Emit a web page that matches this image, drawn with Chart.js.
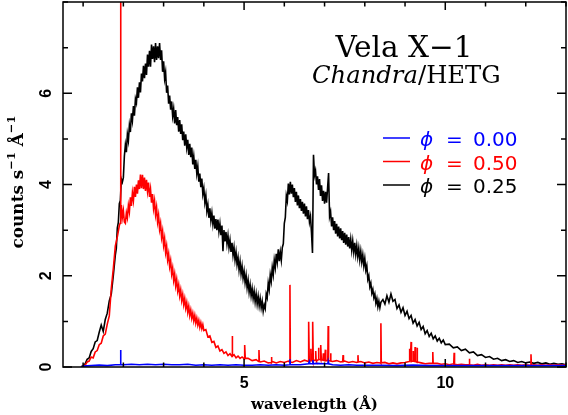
<!DOCTYPE html>
<html>
<head>
<meta charset="utf-8">
<title>Vela X-1 Chandra/HETG</title>
<script src="https://cdn.jsdelivr.net/npm/chart.js@4/dist/chart.umd.min.js"></script>
<style>
  html, body { margin: 0; padding: 0; background: #fff; }
  canvas { display: block; }
</style>
</head>
<body>
<canvas id="velaChart" width="568" height="415"></canvas>
<script>
// orbital phases, in the order of the legend
const phaseLabels = ["0.00", "0.50", "0.25"];

// axis ticks (wavelength in Angstrom, counts s^-1 A^-1)
const xTickValues = [1, 2, 3, 4, 5, 6, 7, 8, 9, 10, 11, 12, 13];
const xLabelValues = [5, 10];
const yTickValues = [0, 1, 2, 3, 4, 5, 6, 7, 8];
const yLabelValues = [0, 2, 4, 6];

// phase 0.25 spectrum (black)
const wlPhase025 = [
  0.95, 1.00, 1.05, 1.10, 1.15, 1.20, 1.25, 1.30, 1.35, 1.40,
  1.45, 1.50, 1.55, 1.60, 1.65, 1.70, 1.75,
  1.800, 1.825, 1.850, 1.875, 1.900, 1.925, 1.950, 1.975,
  2.000, 2.025, 2.050, 2.075, 2.100, 2.125, 2.150, 2.175,
  2.200, 2.225, 2.250, 2.275, 2.300, 2.325, 2.350, 2.375,
  2.400, 2.425, 2.450, 2.475, 2.500, 2.525, 2.550, 2.575,
  2.600, 2.625, 2.650, 2.675, 2.700, 2.725, 2.750, 2.775,
  2.800, 2.825, 2.850, 2.875, 2.900, 2.925, 2.950, 2.975,
  3.000, 3.025, 3.050, 3.075, 3.100, 3.125, 3.150, 3.175,
  3.200, 3.225, 3.250, 3.275, 3.300, 3.325, 3.350, 3.375,
  3.400, 3.425, 3.450, 3.475, 3.500, 3.525, 3.550, 3.575,
  3.600, 3.625, 3.650, 3.675, 3.700, 3.725, 3.750, 3.775,
  3.800, 3.825, 3.850, 3.875, 3.900, 3.925, 3.950, 3.975,
  4.000, 4.025, 4.050, 4.075, 4.100, 4.125, 4.150, 4.175,
  4.200, 4.225, 4.250, 4.275, 4.300, 4.325, 4.350, 4.375,
  4.400, 4.425, 4.450, 4.475, 4.500, 4.525, 4.550, 4.575,
  4.600, 4.625, 4.650, 4.675, 4.700, 4.725, 4.750, 4.775,
  4.800, 4.825, 4.850, 4.875, 4.900, 4.925, 4.950, 4.975,
  5.000, 5.025, 5.050, 5.075, 5.100, 5.125, 5.150, 5.175,
  5.200, 5.225, 5.250, 5.275, 5.300, 5.325, 5.350, 5.375,
  5.400, 5.425, 5.450, 5.475, 5.500, 5.525, 5.550, 5.575,
  5.600, 5.625, 5.650, 5.675, 5.700, 5.725, 5.750, 5.775,
  5.800, 5.825, 5.850, 5.875, 5.900, 5.925, 5.950, 5.975,
  6.000, 6.025, 6.050, 6.075, 6.100, 6.125, 6.150, 6.175,
  6.200, 6.225, 6.250, 6.275, 6.300, 6.325, 6.350, 6.375,
  6.400, 6.425, 6.450, 6.475, 6.500, 6.525, 6.550, 6.575,
  6.600, 6.625, 6.650, 6.675, 6.700, 6.725, 6.750, 6.775,
  6.800, 6.825, 6.850, 6.875, 6.900, 6.925, 6.950, 6.975,
  7.000, 7.025, 7.050, 7.075, 7.100, 7.125, 7.150, 7.175,
  7.200, 7.225, 7.250, 7.275, 7.300, 7.325, 7.350, 7.375,
  7.400, 7.425, 7.450, 7.475, 7.500, 7.525, 7.550, 7.575,
  7.600, 7.625, 7.650, 7.675, 7.700, 7.725, 7.750, 7.775,
  7.800, 7.825, 7.850, 7.875, 7.900, 7.925, 7.950, 7.975,
  8.000, 8.025, 8.050, 8.075, 8.100, 8.125, 8.150, 8.175,
  8.200, 8.225, 8.250, 8.275, 8.300, 8.325, 8.350, 8.375,
  8.400,
  8.45, 8.50, 8.55, 8.60, 8.65, 8.70, 8.75, 8.80,
  8.85, 8.90, 8.95, 9.00, 9.05, 9.10, 9.15, 9.20,
  9.25, 9.30, 9.35, 9.40, 9.45, 9.50, 9.55, 9.60,
  9.65, 9.70, 9.75, 9.80, 9.85, 9.90, 9.95, 10.0,
  10.1, 10.2, 10.3, 10.4, 10.5, 10.6, 10.7, 10.8, 10.9, 11.0,
  11.1, 11.2, 11.3, 11.4, 11.5, 11.6, 11.7, 11.8, 11.9, 12.0,
  12.1, 12.2, 12.3, 12.4, 12.5, 12.6, 12.7, 12.8, 12.9, 13.0
];
const fluxPhase025 = [
  0.00, 0.03, 0.07, 0.17, 0.20, 0.34, 0.40, 0.55, 0.58, 0.76,
  0.92, 0.78, 1.04, 1.18, 1.45, 1.60, 2.00,
  2.45, 2.60, 3.05, 3.17, 3.58, 3.65, 4.12, 4.05,
  4.15, 4.62, 4.87, 4.71, 5.10, 4.96, 5.30, 5.15,
  5.56, 5.40, 5.72, 5.51, 5.88, 5.79, 6.13, 5.90,
  6.24, 6.02, 6.43, 6.26, 6.60, 6.33, 6.65, 6.40,
  6.85, 6.58, 6.93, 6.58, 7.07, 6.75, 7.03, 6.68,
  7.10, 6.73, 7.03, 6.77, 7.10, 6.73, 6.94, 6.47,
  6.70, 6.32, 6.46, 6.01, 6.17, 5.77, 5.95, 5.64,
  5.82, 5.50, 5.66, 5.34, 5.63, 5.30, 5.48, 5.16,
  5.41, 5.11, 5.32, 4.97, 5.16, 4.85, 5.10, 4.81,
  4.98, 4.65, 4.89, 4.60, 4.81, 4.44, 4.62, 4.34,
  4.54, 4.24, 4.40, 4.06, 4.24, 3.94, 4.13, 3.79,
  3.92, 3.61, 3.76, 3.42, 3.56, 3.27, 3.48, 3.21,
  3.38, 3.13, 3.32, 3.03, 3.24, 3.00, 3.23, 2.97,
  3.14, 2.89, 3.10, 2.54, 3.00, 2.75, 2.96, 2.70,
  2.88, 2.62, 2.78, 2.52, 2.72, 2.45, 2.62, 2.35,
  2.52, 2.25, 2.40, 2.13, 2.31, 2.04, 2.21, 1.95,
  2.10, 1.85, 2.01, 1.74, 1.90, 1.64, 1.80, 1.56,
  1.72, 1.50, 1.66, 1.43, 1.60, 1.38, 1.55, 1.34,
  1.50, 1.30, 1.44, 1.22, 1.36, 1.28, 1.60, 1.52,
  1.84, 1.70, 2.02, 1.88, 2.18, 2.02, 2.34, 2.18,
  2.48, 2.30, 2.58, 2.32, 2.52, 2.34, 2.62, 2.70,
  3.15, 3.28, 3.75, 3.64, 4.02, 3.78, 4.06, 3.80,
  4.00, 3.72, 3.92, 3.62, 3.84, 3.54, 3.76, 3.48,
  3.68, 3.42, 3.62, 3.36, 3.58, 3.30, 3.52, 3.24,
  3.44, 3.18, 3.30, 2.95, 2.50, 4.65, 4.20, 4.30,
  4.00, 4.18, 3.88, 4.12, 3.75, 3.98, 3.64, 3.86,
  3.58, 3.84, 3.60, 3.92, 4.25, 3.30, 3.40, 3.08,
  3.28, 3.00, 3.20, 2.92, 3.14, 2.86, 3.08, 2.82,
  3.04, 2.78, 2.98, 2.72, 2.94, 2.68, 2.90, 2.64,
  2.85, 2.60, 2.80, 2.56, 2.76, 2.52, 2.72, 2.47,
  2.66, 2.42, 2.60, 2.35, 2.54, 2.30, 2.46, 2.22,
  2.38, 2.12, 2.22, 1.92, 2.00, 1.76, 1.84, 1.62,
  1.70, 1.52, 1.60, 1.40, 1.50, 1.32, 1.44, 1.30,
  1.42,
  1.48, 1.38, 1.56, 1.42, 1.60, 1.44, 1.48, 1.28,
  1.36, 1.20, 1.30, 1.13, 1.22, 1.06, 1.13, 0.96,
  1.04, 0.90, 0.98, 0.82, 0.89, 0.73, 0.80, 0.67,
  0.74, 0.62, 0.68, 0.57, 0.63, 0.53, 0.59, 0.49,
  0.50, 0.42, 0.44, 0.36, 0.39, 0.31, 0.33, 0.25, 0.27, 0.21,
  0.23, 0.17, 0.19, 0.14, 0.16, 0.12, 0.14, 0.10, 0.12, 0.09,
  0.11, 0.08, 0.10, 0.07, 0.09, 0.06, 0.08, 0.06, 0.07, 0.05
];

// phase 0.50 spectrum (red): continuum
const wlPhase050 = [
  0.95, 1.00, 1.05, 1.10, 1.15, 1.20, 1.25, 1.30, 1.35, 1.40,
  1.45, 1.50, 1.55, 1.60, 1.65, 1.70, 1.75, 1.80, 1.85, 1.90,
  1.92, 1.93, 1.94,
  1.950, 1.975, 2.000, 2.025, 2.050, 2.075, 2.100, 2.125,
  2.150, 2.175, 2.200, 2.225, 2.250, 2.275, 2.300, 2.325,
  2.350, 2.375, 2.400, 2.425, 2.450, 2.475, 2.500, 2.525,
  2.550, 2.575, 2.600, 2.625, 2.650, 2.675, 2.700, 2.725,
  2.750, 2.775, 2.800, 2.825, 2.850, 2.875, 2.900, 2.925,
  2.950, 2.975, 3.000, 3.025, 3.050, 3.075, 3.100, 3.125,
  3.150, 3.175, 3.200, 3.225, 3.250, 3.275, 3.300, 3.325,
  3.350, 3.375, 3.400, 3.425, 3.450, 3.475, 3.500, 3.525,
  3.550, 3.575, 3.600, 3.625, 3.650, 3.675, 3.700, 3.725,
  3.750, 3.775, 3.800, 3.825, 3.850, 3.875, 3.900, 3.925,
  3.950, 3.975,
  4.00, 4.05, 4.10, 4.15, 4.20, 4.25, 4.30, 4.35, 4.40, 4.45,
  4.50, 4.55, 4.60, 4.65, 4.70, 4.75, 4.80, 4.85, 4.90, 4.95,
  5.00,
  5.1, 5.2, 5.3, 5.4, 5.5, 5.6, 5.7, 5.8, 5.9, 6.0,
  6.1, 6.2, 6.3, 6.4, 6.5, 6.6, 6.7, 6.8, 6.9, 7.0,
  7.1, 7.2, 7.3, 7.4, 7.5, 7.6, 7.7, 7.8, 7.9, 8.0,
  8.1, 8.2, 8.3, 8.4, 8.5, 8.6, 8.7, 8.8, 8.9, 9.0,
  9.1, 9.2, 9.3, 9.4, 9.5, 9.6, 9.7, 9.8, 9.9, 10.0,
  10.1, 10.2, 10.3, 10.4, 10.5, 10.6, 10.7, 10.8, 10.9, 11.0,
  11.1, 11.2, 11.3, 11.4, 11.5, 11.6, 11.7, 11.8, 11.9, 12.0,
  12.1, 12.2, 12.3, 12.4, 12.5, 12.6, 12.7, 12.8, 12.9, 13.0
];
const fluxPhase050 = [
  0.00, 0.02, 0.04, 0.11, 0.13, 0.22, 0.20, 0.33, 0.36, 0.49,
  0.52, 0.68, 0.72, 0.94, 1.12, 1.72, 2.15, 2.65, 2.85, 3.10,
  3.15, 9.50, 3.30,
  3.55, 3.28, 3.43, 3.18, 3.15, 3.38, 3.27, 3.54,
  3.40, 3.72, 3.53, 3.82, 3.65, 3.95, 3.73, 4.00,
  3.80, 4.09, 3.90, 4.22, 3.92, 4.21, 3.90, 4.15,
  3.86, 4.10, 3.85, 4.04, 3.73, 3.90, 3.60, 3.79,
  3.48, 3.64, 3.34, 3.50, 3.18, 3.33, 3.02, 3.15,
  2.84, 2.98, 2.67, 2.82, 2.51, 2.65, 2.35, 2.48,
  2.20, 2.33, 2.04, 2.17, 1.90, 2.04, 1.78, 1.92,
  1.67, 1.80, 1.56, 1.69, 1.46, 1.59, 1.37, 1.50,
  1.29, 1.41, 1.20, 1.33, 1.13, 1.25, 1.07, 1.18,
  1.01, 1.13, 0.96, 1.07, 0.92, 1.02, 0.87, 0.97,
  0.84, 0.93,
  0.80, 0.82, 0.66, 0.68, 0.54, 0.56, 0.43, 0.46, 0.35, 0.38,
  0.30, 0.33, 0.25, 0.29, 0.23, 0.27, 0.20, 0.24, 0.19, 0.22,
  0.18,
  0.19, 0.14, 0.16, 0.11, 0.13, 0.09, 0.12, 0.09, 0.12, 0.10,
  0.13, 0.10, 0.14, 0.11, 0.15, 0.12, 0.16, 0.13, 0.17, 0.14,
  0.15, 0.12, 0.14, 0.11, 0.13, 0.10, 0.12, 0.10, 0.12, 0.09,
  0.11, 0.08, 0.10, 0.08, 0.10, 0.07, 0.09, 0.07, 0.09, 0.10,
  0.12, 0.13, 0.10, 0.09, 0.07, 0.08, 0.06, 0.08, 0.06, 0.07,
  0.05, 0.07, 0.05, 0.06, 0.05, 0.06, 0.04, 0.06, 0.04, 0.05,
  0.04, 0.05, 0.04, 0.05, 0.04, 0.05, 0.04, 0.05, 0.04, 0.05,
  0.04, 0.05, 0.04, 0.05, 0.04, 0.05, 0.04, 0.05, 0.04, 0.05
];
// phase 0.50 emission lines: centre, peak and local base
const lineWlPhase050 = [4.71, 5.02, 5.37, 5.68, 6.14, 6.61, 6.66, 6.71, 6.78, 6.85, 6.91, 6.97, 7.02, 7.09, 7.15, 7.46, 7.83, 8.40, 9.12, 9.15, 9.20, 9.25, 9.30, 9.69, 10.22, 10.60, 12.13];
const linePeakPhase050 = [0.68, 0.48, 0.37, 0.22, 1.80, 0.99, 0.40, 0.99, 0.35, 0.42, 0.48, 0.30, 0.38, 0.90, 0.30, 0.26, 0.26, 0.96, 0.40, 0.55, 0.35, 0.44, 0.42, 0.33, 0.31, 0.18, 0.28];
const lineBasePhase050 = [0.24, 0.19, 0.12, 0.10, 0.11, 0.13, 0.14, 0.14, 0.15, 0.16, 0.16, 0.15, 0.14, 0.14, 0.13, 0.12, 0.11, 0.09, 0.12, 0.12, 0.13, 0.12, 0.11, 0.08, 0.06, 0.05, 0.04];

// phase 0.00 spectrum (blue, eclipse)
const wlPhase000 = [
  0.95, 1.0, 1.2, 1.4, 1.6, 1.8, 2.0, 2.2, 2.4, 2.6,
  2.8, 3.0, 3.2, 3.4, 3.6, 3.8, 4.0, 4.2, 4.4, 4.6,
  4.8, 5.0, 5.2, 5.4, 5.6, 5.8, 6.0, 6.2, 6.4, 6.6,
  6.8, 7.0, 7.2, 7.4, 7.6, 7.8, 8.0, 8.4, 8.8, 9.2,
  9.6, 10.0, 10.5, 11.0, 11.5, 12.0, 12.5, 13.0
];
const fluxPhase000 = [
  0.00, 0.02, 0.03, 0.04, 0.03, 0.05, 0.05, 0.06, 0.05, 0.06,
  0.05, 0.06, 0.05, 0.05, 0.06, 0.04, 0.05, 0.04, 0.05, 0.04,
  0.05, 0.04, 0.04, 0.05, 0.04, 0.05, 0.04, 0.05, 0.05, 0.07,
  0.08, 0.07, 0.05, 0.04, 0.05, 0.04, 0.04, 0.04, 0.03, 0.04,
  0.03, 0.03, 0.03, 0.03, 0.03, 0.03, 0.03, 0.03
];
const lineWlPhase000 = [1.93, 6.14, 6.62, 6.71, 7.09];
const linePeakPhase000 = [0.37, 0.17, 0.12, 0.15, 0.12];
const lineBasePhase000 = [0.05, 0.05, 0.07, 0.07, 0.07];

// combine continuum with narrow lines into sorted {x, y} points
function buildPoints(wl, flux, lineWl, linePeak, lineBase) {
  const pts = wl.map((w, i) => ({ x: w, y: flux[i] }));
  (lineWl || []).forEach((c, i) => {
    pts.push({ x: c - 0.01, y: lineBase[i] });
    pts.push({ x: c, y: linePeak[i] });
    pts.push({ x: c + 0.01, y: lineBase[i] });
  });
  return pts.sort((a, b) => a.x - b.x);
}

const serif = '"DejaVu Serif", "Liberation Serif", serif';
const sans = '"DejaVu Sans", "Liberation Sans", sans-serif';

// font size that makes text span the wanted width
function fitFont(ctx, style, family, text, width, start) {
  ctx.font = `${style} ${start}px ${family}`;
  const size = start * width / ctx.measureText(text).width;
  return `${style} ${size.toFixed(2)}px ${family}`;
}

// frame, inward ticks, labels, annotation and legend
const decorations = {
  id: "decorations",
  beforeDraw(chart) {
    const ctx = chart.ctx;
    ctx.save();
    ctx.fillStyle = "#fff";
    ctx.fillRect(0, 0, chart.width, chart.height);
    ctx.restore();
  },
  afterDatasetsDraw(chart) {
    const { ctx, chartArea: a, scales: { x, y } } = chart;
    ctx.save();
    ctx.strokeStyle = "#000";
    ctx.fillStyle = "#000";
    ctx.lineWidth = 1.5;
    ctx.strokeRect(a.left, a.top, a.right - a.left, a.bottom - a.top);

    // ticks pointing inward on all four sides
    ctx.beginPath();
    xTickValues.forEach((v) => {
      const px = x.getPixelForValue(v);
      const len = xLabelValues.includes(v) ? 8 : 4.5;
      ctx.moveTo(px, a.bottom); ctx.lineTo(px, a.bottom - len);
      ctx.moveTo(px, a.top); ctx.lineTo(px, a.top + len);
    });
    yTickValues.forEach((v) => {
      const py = y.getPixelForValue(v);
      const len = yLabelValues.includes(v) ? 9 : 5;
      ctx.moveTo(a.left, py); ctx.lineTo(a.left + len, py);
      ctx.moveTo(a.right, py); ctx.lineTo(a.right - len, py);
    });
    ctx.stroke();

    // tick labels
    ctx.font = 'bold 16px "Liberation Sans", sans-serif';
    ctx.textAlign = "center";
    ctx.textBaseline = "alphabetic";
    xLabelValues.forEach((v) => {
      ctx.fillText(String(v), x.getPixelForValue(v), a.bottom + 21);
    });
    ctx.textBaseline = "middle";
    yLabelValues.forEach((v) => {
      ctx.save();
      ctx.translate(a.left - 17, y.getPixelForValue(v));
      ctx.rotate(-Math.PI / 2);
      ctx.fillText(String(v), 0, 1);
      ctx.restore();
    });

    // x axis title
    ctx.textBaseline = "alphabetic";
    ctx.font = fitFont(ctx, "bold", serif, "wavelength (Å)", 127, 14);
    ctx.fillText("wavelength (Å)", (a.left + a.right) / 2, 408.5);

    // y axis title with superscripts, scaled to its length in the figure
    const yParts = [
      { t: "counts s", sup: false },
      { t: "−1", sup: true },
      { t: " Å", sup: false },
      { t: "−1", sup: true }
    ];
    const measure = (size) => {
      let w = 0;
      yParts.forEach((p) => {
        ctx.font = `bold ${(p.sup ? size * 0.68 : size).toFixed(2)}px ${serif}`;
        p.w = ctx.measureText(p.t).width;
        w += p.w;
      });
      return w;
    };
    const ySize = 14 * 133 / measure(14);
    const total = measure(ySize);
    ctx.save();
    ctx.translate(23, 182);
    ctx.rotate(-Math.PI / 2);
    ctx.textAlign = "left";
    let cx = -total / 2;
    yParts.forEach((p) => {
      ctx.font = `bold ${(p.sup ? ySize * 0.68 : ySize).toFixed(2)}px ${serif}`;
      ctx.fillText(p.t, cx, p.sup ? -ySize * 0.5 : 0);
      cx += p.w;
    });
    ctx.restore();

    // annotation
    ctx.textAlign = "center";
    ctx.font = fitFont(ctx, "normal", serif, "Vela X−1", 137, 28);
    ctx.fillText("Vela X−1", 404, 57);
    const italicFont = fitFont(ctx, "italic", serif, "Chandra", 106, 22);
    const romanFont = italicFont.replace("italic", "normal");
    ctx.textAlign = "left";
    ctx.font = italicFont;
    const wItalic = ctx.measureText("Chandra").width;
    ctx.fillText("Chandra", 312, 83);
    ctx.font = romanFont;
    ctx.fillText("/HETG", 312 + wItalic, 83);

    // legend: line sample, phi, equals sign, phase value
    chart.data.datasets.forEach((ds, i) => {
      const ly = 138 + i * 23.5;
      ctx.strokeStyle = ds.borderColor;
      ctx.fillStyle = ds.borderColor;
      ctx.lineWidth = 1.5;
      ctx.beginPath();
      ctx.moveTo(383, ly); ctx.lineTo(410, ly);
      ctx.stroke();
      ctx.font = `italic 20px ${sans}`;
      ctx.fillText("ϕ", 420, ly + 8);
      ctx.font = `20px ${sans}`;
      ctx.fillText("=", 446, ly + 8);
      ctx.fillText(ds.label, 473, ly + 8);
    });
    ctx.restore();
  }
};

new Chart(document.getElementById("velaChart"), {
  type: "line",
  data: {
    datasets: [
      {
        label: phaseLabels[0],
        data: buildPoints(wlPhase000, fluxPhase000, lineWlPhase000, linePeakPhase000, lineBasePhase000),
        borderColor: "#0000ff"
      },
      {
        label: phaseLabels[1],
        data: buildPoints(wlPhase050, fluxPhase050, lineWlPhase050, linePeakPhase050, lineBasePhase050),
        borderColor: "#ff0000"
      },
      {
        label: phaseLabels[2],
        data: buildPoints(wlPhase025, fluxPhase025),
        borderColor: "#000000"
      }
    ]
  },
  options: {
    responsive: false,
    animation: false,
    devicePixelRatio: 1,
    layout: { padding: { left: 63, right: 2, top: 2, bottom: 48 } },
    elements: {
      point: { radius: 0 },
      line: { borderWidth: 1.6, tension: 0, fill: false }
    },
    plugins: {
      legend: { display: false },
      tooltip: { enabled: false }
    },
    scales: {
      x: { type: "linear", min: 0.5, max: 13, display: false },
      y: { type: "linear", min: 0, max: 8, display: false }
    }
  },
  plugins: [decorations]
});
</script>
</body>
</html>
